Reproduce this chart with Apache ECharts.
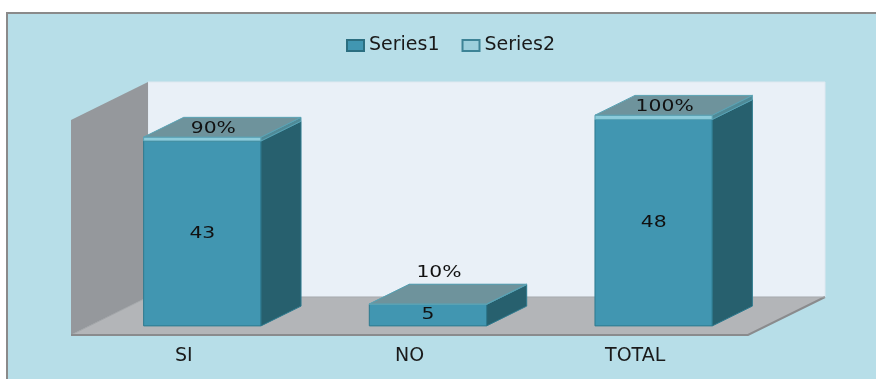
<!DOCTYPE html>
<html>
<head>
<meta charset="utf-8">
<script src="https://cdn.jsdelivr.net/npm/echarts@6/dist/echarts.min.js"></script>
<style>
  html, body { margin: 0; padding: 0; background: #ffffff; }
  #wrap { position: relative; width: 876px; height: 379px; overflow: hidden; background: #ffffff; }
  #frame { position: absolute; left: 6px; top: 12px; width: 880px; height: 380px;
           background: #b7dee8; border-left: 2px solid #8a8a8a; border-top: 2px solid #8a8a8a; }
  #chart { position: absolute; left: 0; top: 0; width: 876px; height: 379px; }
</style>
</head>
<body>
<div id="wrap"><div id="frame"></div><div id="chart"></div></div>
<script>
// ---- data ----
const categories = ['SI', 'NO', 'TOTAL'];
const series1Values = [43, 5, 48];
const series2Values = [0.9, 0.1, 1.0];   // shown as percentages
const seriesNames = ['Series1', 'Series2'];
const yMin = 0;
const yMax = 50;

// ---- 3D look ----
const DEPTH = [77, -38];          // wall depth offset
const BAR_FRONT = 0.24;           // bar front plane (fraction of depth)
const BAR_DEPTH = 0.52;           // bar depth (fraction of depth)
const BAR_WIDTH = 0.52;           // fraction of category band
const FONT = '"DejaVu Sans", sans-serif';
const TEXT_STRETCH = 1.27;

const C1 = { front: '#4196b1', side: '#27606e', top: '#6e939c', edge: '#2e7a8e' };
const C2 = { front: '#8ccbda', side: '#4f8a97', top: '#6e939c', edge: '#5aa3b5' };

function barGeom(api, idx, v0, v1) {
  const p0 = api.coord([idx, v0]);
  const p1 = api.coord([idx, v1]);
  const bw = api.size([1, 0])[0] * BAR_WIDTH;
  const fx = p0[0] + DEPTH[0] * BAR_FRONT - bw / 2;
  const y0 = p0[1] + DEPTH[1] * BAR_FRONT;
  const y1 = p1[1] + DEPTH[1] * BAR_FRONT;
  const dx = DEPTH[0] * BAR_DEPTH, dy = DEPTH[1] * BAR_DEPTH;
  return { fx, y0, y1, bw, dx, dy, cx: fx + bw / 2 };
}

function boxChildren(g, col) {
  const { fx, y0, y1, bw, dx, dy } = g;
  return [
    { type: 'rect', shape: { x: fx, y: y1, width: bw, height: Math.max(y0 - y1, 0.5) },
      style: { fill: col.front, stroke: col.edge, lineWidth: 1 } },
    { type: 'polygon', shape: { points: [[fx + bw, y1], [fx + bw + dx, y1 + dy], [fx + bw + dx, y0 + dy], [fx + bw, y0]] },
      style: { fill: col.side, stroke: col.edge, lineWidth: 1 } },
    { type: 'polygon', shape: { points: [[fx, y1], [fx + dx, y1 + dy], [fx + bw + dx, y1 + dy], [fx + bw, y1]] },
      style: { fill: col.top, stroke: col.edge, lineWidth: 1 } }
  ];
}

function label(text, x, y) {
  return { type: 'text', x: x, y: y, scaleX: TEXT_STRETCH, scaleY: 1,
    style: { text: text, x: 0, y: 0, fill: '#111111', font: '16px ' + FONT,
             textAlign: 'center', textVerticalAlign: 'middle' } };
}

function renderWalls(params, api) {
  const cs = params.coordSys;
  const x = cs.x, y = cs.y, w = cs.width, h = cs.height;
  const dx = DEPTH[0], dy = DEPTH[1];
  return { type: 'group', children: [
    { type: 'rect', shape: { x: x + dx, y: y + dy, width: w, height: h },
      style: { fill: '#e9f0f7', stroke: '#dfe8f0', lineWidth: 1 } },
    { type: 'polygon', shape: { points: [[x, y + h], [x, y], [x + dx, y + dy], [x + dx, y + h + dy]] },
      style: { fill: '#95989c' } },
    { type: 'polygon', shape: { points: [[x, y + h], [x + w, y + h], [x + w + dx, y + h + dy], [x + dx, y + h + dy]] },
      style: { fill: '#b3b5b8' } },
    { type: 'polyline', shape: { points: [[x, y + h], [x + dx, y + h + dy]] },
      style: { stroke: '#a3a5a8', lineWidth: 1, fill: null } },
    { type: 'polyline', shape: { points: [[x, y + h], [x + w, y + h], [x + w + dx, y + h + dy]] },
      style: { stroke: '#8a8b8d', lineWidth: 2, fill: null } },
    { type: 'polyline', shape: { points: [[x + dx, y + h + dy], [x + w + dx, y + h + dy]] },
      style: { stroke: '#a8abae', lineWidth: 1, fill: null } }
  ]};
}

function renderSeries1(params, api) {
  const idx = api.value(0), v = api.value(1);
  const g = barGeom(api, idx, 0, v);
  const ch = boxChildren(g, C1);
  ch.push(label(String(v), g.cx, (g.y0 + g.y1) / 2));
  return { type: 'group', children: ch };
}

function renderSeries2(params, api) {
  const idx = api.value(0), v = api.value(1), base = api.value(2);
  const g = barGeom(api, idx, base, base + v);
  const ch = boxChildren(g, C2);
  const g1 = barGeom(api, idx, 0, base);
  const label1Y = (g1.y0 + g1.y1) / 2;
  const ly = Math.min(g.y1 - 8, label1Y - 42);
  ch.push(label(Math.round(v * 100) + '%', g.cx + 11, ly));
  return { type: 'group', children: ch };
}

const chart = echarts.init(document.getElementById('chart'), null, { renderer: 'canvas' });
chart.setOption({
  backgroundColor: 'transparent',
  animation: false,
  legend: {
    data: seriesNames,
    left: 341, top: 31,
    icon: 'rect', itemWidth: 17, itemHeight: 11, itemGap: 22,
    textStyle: { fontFamily: FONT, fontSize: 19, color: '#1a1a1a' }
  },
  grid: { left: 71, top: 120, width: 677, height: 215, containLabel: false },
  xAxis: {
    type: 'category', data: categories,
    axisLine: { show: false }, axisTick: { show: false }, splitLine: { show: false },
    axisLabel: { margin: 12, fontFamily: FONT, fontSize: 19, color: '#1a1a1a' }
  },
  yAxis: {
    type: 'value', min: yMin, max: yMax, show: false, splitLine: { show: false }
  },
  series: [
    { type: 'custom', name: 'walls', z: 1, silent: true, renderItem: renderWalls,
      data: [[0, 0]], encode: { x: 0, y: 1 } },
    { type: 'custom', name: seriesNames[0], z: 2, renderItem: renderSeries1,
      itemStyle: { color: C1.front, borderColor: '#2b6e80', borderWidth: 1 },
      data: categories.map((c, i) => [i, series1Values[i]]), encode: { x: 0, y: 1 } },
    { type: 'custom', name: seriesNames[1], z: 3, renderItem: renderSeries2,
      itemStyle: { color: '#9ccfdc', borderColor: '#3d8396', borderWidth: 1 },
      data: categories.map((c, i) => [i, series2Values[i], series1Values[i]]), encode: { x: 0, y: 1 } }
  ]
});
</script>
</body>
</html>
